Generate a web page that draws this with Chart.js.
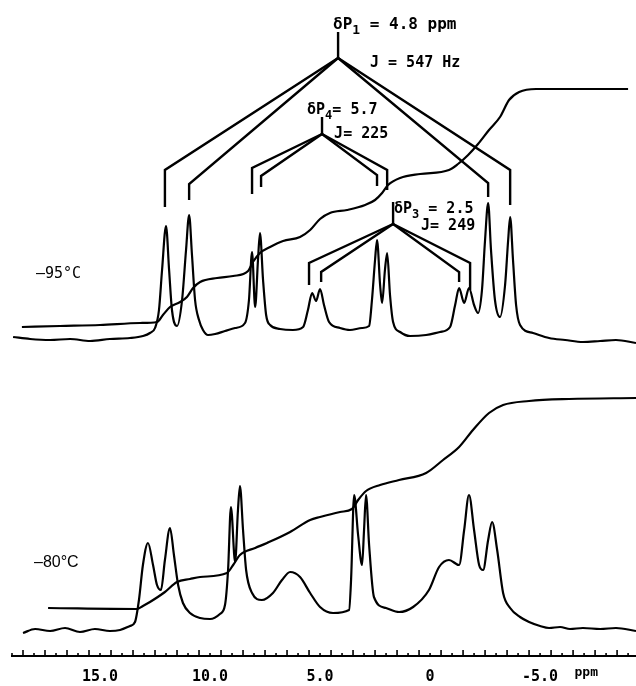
<!DOCTYPE html>
<html>
<head>
<meta charset="utf-8">
<script src="https://cdn.jsdelivr.net/npm/chart.js@4.4.0/dist/chart.umd.min.js"></script>
<style>
  html, body { margin: 0; padding: 0; background: #fff; }
  #nmrChart { display: block; }
</style>
</head>
<body>
<canvas id="nmrChart" width="636" height="686"></canvas>
<script>
// chemical shift (ppm) and intensity
const shiftTicks = [15, 10, 5, 0, -5];

const top95Shift = [18.95, 18.18, 17.27, 16.36, 15.45, 14.55, 13.64, 13.05, 12.73, 12.50, 12.32, 12.18, 12.00, 11.86, 11.73, 11.50, 11.27, 11.09, 10.95, 10.82, 10.68, 10.50, 10.32, 10.09, 9.77, 9.32, 8.86, 8.41, 8.23, 8.09, 7.95, 7.82, 7.73, 7.59, 7.45, 7.27, 6.82, 6.23, 5.77, 5.55, 5.36, 5.18, 5.00, 4.82, 4.59, 4.09, 3.64, 3.09, 2.77, 2.64, 2.50, 2.41, 2.27, 2.18, 2.05, 1.95, 1.82, 1.68, 1.36, 0.91, 0.18, -0.45, -0.91, -1.14, -1.32, -1.55, -1.77, -2.00, -2.18, -2.36, -2.50, -2.64, -2.77, -2.95, -3.18, -3.41, -3.55, -3.64, -3.77, -3.91, -4.09, -4.68, -5.41, -6.14, -6.95, -7.73, -8.45, -9.36];
const top95Height = [3, 1, 0, 1, -1, 1, 2, 4, 7, 12, 30, 70, 114, 70, 30, 14, 40, 90, 125, 85, 40, 20, 10, 5, 6, 9, 12, 17, 40, 88, 33, 80, 107, 60, 25, 15, 11, 10, 13, 30, 47, 39, 51, 35, 18, 12, 10, 12, 14, 40, 80, 100, 55, 37, 70, 87, 45, 18, 8, 4, 5, 8, 13, 35, 52, 37, 52, 35, 27, 50, 100, 137, 90, 40, 23, 55, 100, 123, 80, 35, 15, 7, 2, 0, -2, -1, 0, -3];

const int95Shift = [18.55, 16.82, 15.0, 13.18, 12.41, 12.14, 11.82, 11.36, 11.05, 10.77, 10.45, 9.68, 8.95, 8.27, 8.05, 7.73, 7.27, 6.68, 5.91, 5.45, 5.0, 4.55, 3.77, 2.95, 2.5, 2.18, 1.91, 1.36, 0.45, -0.86, -1.27, -1.73, -2.18, -2.68, -3.18, -3.59, -4.05, -4.82, -6.82, -9.0];
const int95Height = [13, 14, 15, 17, 18, 25, 33, 38, 43, 52, 58, 62, 64, 69, 78, 87, 93, 99, 103, 110, 121, 127, 130, 135, 140, 147, 155, 162, 166, 170, 176, 185, 196, 210, 223, 240, 248, 251, 251, 251];

const bot80Shift = [18.5, 17.95, 17.27, 16.59, 15.91, 15.23, 14.55, 14.09, 13.64, 13.41, 13.23, 13.05, 12.82, 12.59, 12.41, 12.23, 12.05, 11.82, 11.64, 11.45, 11.23, 10.91, 10.45, 10.0, 9.55, 9.32, 9.18, 9.05, 8.86, 8.73, 8.64, 8.5, 8.36, 8.09, 7.64, 7.14, 6.73, 6.36, 5.91, 5.45, 5.0, 4.41, 3.68, 3.59, 3.45, 3.27, 3.09, 3.0, 2.91, 2.77, 2.55, 2.0, 1.41, 0.77, 0.05, -0.41, -0.86, -1.32, -1.55, -1.77, -2.0, -2.23, -2.41, -2.64, -2.82, -3.05, -3.32, -3.64, -4.09, -4.5, -5.0, -5.41, -5.91, -6.36, -6.95, -7.73, -8.45, -9.36];
const bot80Height = [-1, 3, 1, 4, 0, 3, 1, 2, 6, 10, 32, 67, 89, 67, 47, 42, 72, 104, 77, 47, 29, 19, 14, 13, 18, 27, 62, 125, 70, 122, 146, 102, 62, 39, 32, 39, 52, 60, 55, 39, 25, 19, 22, 52, 137, 97, 67, 102, 137, 87, 35, 24, 20, 25, 42, 65, 72, 67, 102, 137, 102, 67, 62, 92, 110, 82, 39, 24, 15, 10, 6, 4, 5, 3, 4, 3, 4, 1];

const int80Shift = [17.36, 13.32, 13.05, 12.73, 12.05, 11.5, 10.91, 10.45, 9.23, 8.95, 8.64, 7.95, 7.41, 6.36, 5.45, 5.0, 4.09, 3.55, 3.27, 2.91, 2.27, 1.41, 0.18, -0.59, -1.32, -1.95, -2.68, -3.32, -4.5, -6.32, -9.36];
const int80Height = [24, 23, 26, 30, 40, 50, 53, 55, 59, 67, 77, 84, 89, 100, 112, 115, 120, 123, 132, 141, 147, 152, 159, 172, 185, 202, 219, 227, 231, 233, 234];

document.addEventListener('DOMContentLoaded', function () {
    const ctx = document.getElementById('nmrChart');
    const ink = '#000';
    const topOffset = 316;
    const bottomOffset = 24;

    // splitting trees: apex [ppm, y], stem top y, legs [ppm, knee y, foot y]
    const trees = [
        { apex: [4.18, 598], stem: 624, legs: [[12.05, 486, 449], [10.95, 472, 456], [-2.64, 473, 459], [-3.64, 486, 451]] },
        { apex: [4.91, 522], stem: 539, legs: [[8.09, 488, 462], [7.68, 480, 469], [2.41, 481, 470], [1.95, 486, 466]] },
        { apex: [1.68, 432], stem: 454, legs: [[5.5, 393, 371], [4.95, 384, 374], [-1.32, 384, 374], [-1.82, 393, 366]] }
    ];

    const notes = [
        { x: 4.41, y: 627, size: 16, parts: ['δP', '_1', ' = 4.8 ppm'] },
        { x: 2.73, y: 589, size: 15, parts: ['J = 547 Hz'] },
        { x: 5.59, y: 542, size: 15, parts: ['δP', '_4', '= 5.7'] },
        { x: 4.36, y: 518, size: 15, parts: ['J= 225'] },
        { x: 1.64, y: 443, size: 15, parts: ['δP', '_3', ' = 2.5'] },
        { x: 0.41, y: 426, size: 15, parts: ['J= 249'] }
    ];

    function trace(xs, ys, offset) {
        return {
            data: xs.map((x, i) => ({ x: x, y: ys[i] + offset })),
            showLine: true,
            borderColor: ink,
            borderWidth: 2.2,
            pointRadius: 0,
            cubicInterpolationMode: 'monotone'
        };
    }

    function segment(points) {
        return {
            data: points.map(p => ({ x: p[0], y: p[1] })),
            showLine: true,
            borderColor: ink,
            borderWidth: 2.4,
            pointRadius: 0,
            tension: 0
        };
    }

    const datasets = [
        trace(top95Shift, top95Height, topOffset),
        trace(int95Shift, int95Height, topOffset),
        trace(bot80Shift, bot80Height, bottomOffset),
        trace(int80Shift, int80Height, bottomOffset)
    ];

    trees.forEach(t => {
        datasets.push(segment([t.apex, [t.apex[0], t.stem]]));
        t.legs.forEach(leg => {
            datasets.push(segment([t.apex, [leg[0], leg[1]], [leg[0], leg[2]]]));
        });
    });

    const paper = {
        id: 'paper',
        beforeDraw(chart) {
            const c = chart.ctx;
            c.save();
            c.fillStyle = '#fff';
            c.fillRect(0, 0, chart.width, chart.height);
            c.restore();
        }
    };

    const axisMarks = {
        id: 'axisMarks',
        afterDraw(chart) {
            const xs = chart.scales.x;
            const base = chart.chartArea.bottom;
            const c = chart.ctx;
            c.save();
            c.strokeStyle = ink;
            c.lineWidth = 1.6;
            for (let k = Math.ceil(xs.min * 2); k <= Math.floor(xs.max * 2); k++) {
                const px = xs.getPixelForValue(k / 2);
                const tall = Math.abs(k % 2) === 1;
                c.beginPath();
                c.moveTo(px, base);
                c.lineTo(px, base - (tall ? 6 : 3));
                c.stroke();
            }
            c.font = 'bold 13px "DejaVu Sans Mono"';
            c.fillStyle = ink;
            c.textAlign = 'center';
            c.textBaseline = 'alphabetic';
            c.fillText('ppm', xs.getPixelForValue(-7.1), 676);
            c.restore();
        }
    };

    const labels = {
        id: 'labels',
        afterDatasetsDraw(chart) {
            const xs = chart.scales.x;
            const ys = chart.scales.y;
            const c = chart.ctx;
            c.save();
            c.fillStyle = ink;
            c.textBaseline = 'alphabetic';
            c.textAlign = 'left';
            notes.forEach(n => {
                let px = xs.getPixelForValue(n.x);
                const py = ys.getPixelForValue(n.y);
                n.parts.forEach(part => {
                    const sub = part.startsWith('_');
                    const text = sub ? part.slice(1) : part;
                    c.font = 'bold ' + (sub ? n.size - 3 : n.size) + 'px "DejaVu Sans Mono"';
                    c.fillText(text, px, py + (sub ? 5 : 0));
                    px += c.measureText(text).width;
                });
            });
            c.font = '15px "DejaVu Sans Mono"';
            c.fillText('–95°C', xs.getPixelForValue(17.91), ys.getPixelForValue(378));
            c.font = '16px "Liberation Sans"';
            c.fillText('–80°C', xs.getPixelForValue(18.0), ys.getPixelForValue(89));
            c.restore();
        }
    };

    new Chart(ctx, {
        type: 'scatter',
        data: { datasets: datasets },
        options: {
            responsive: false,
            devicePixelRatio: 1,
            animation: false,
            events: [],
            layout: { padding: { left: 12, right: 0, top: 0, bottom: 0 } },
            plugins: {
                legend: { display: false },
                tooltip: { enabled: false }
            },
            scales: {
                x: {
                    type: 'linear',
                    reverse: true,
                    min: -9.36,
                    max: 19.0,
                    afterBuildTicks: function (scale) {
                        scale.ticks = shiftTicks.map(v => ({ value: v }));
                    },
                    grid: {
                        drawOnChartArea: false,
                        drawTicks: true,
                        tickLength: 12,
                        tickColor: 'rgba(0,0,0,0)'
                    },
                    border: { display: true, color: ink, width: 2 },
                    ticks: {
                        padding: 0,
                        color: ink,
                        maxRotation: 0,
                        autoSkip: false,
                        font: { family: 'DejaVu Sans Mono', size: 15, weight: 'bold' },
                        callback: function (v) {
                            return v === 0 ? '0' : v.toFixed(1);
                        }
                    }
                },
                y: {
                    display: false,
                    min: 0,
                    max: 656
                }
            }
        },
        plugins: [paper, axisMarks, labels]
    });
});
</script>
</body>
</html>
